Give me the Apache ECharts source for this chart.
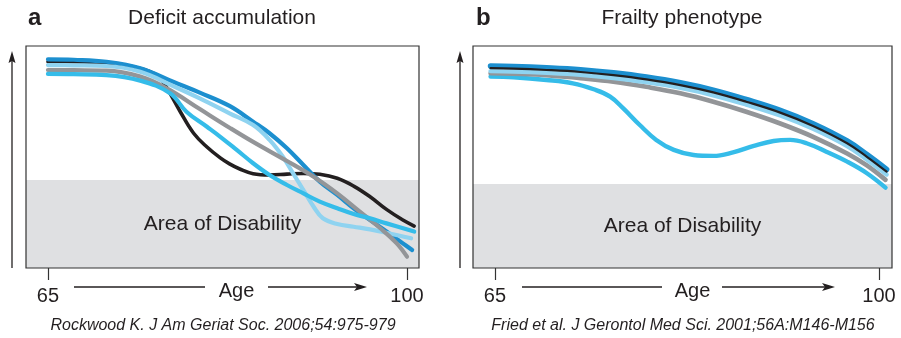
<!DOCTYPE html>
<html>
<head>
<meta charset="utf-8">
<title>Deficit accumulation vs Frailty phenotype</title>
<script src="https://cdn.jsdelivr.net/npm/echarts@6/dist/echarts.min.js"></script>
<style>
  html, body {
    margin: 0;
    padding: 0;
    background: #fff;
  }
  #chart {
    width: 901px;
    height: 338px;
  }
</style>
</head>
<body>
<div id="chart"></div>
<script>
// 刻度：只标 65 和 100 岁
const tickAges = [65, 100]
const panelTitles = ['Deficit accumulation', 'Frailty phenotype']
const panelLetters = ['a', 'b']
const citations = [
  'Rockwood K. J Am Geriat Soc. 2006;54:975-979',
  'Fried et al. J Gerontol Med Sci. 2001;56A:M146-M156'
]
const areaLabel = 'Area of Disability'
// 残疾区上沿（0-100 的功能水平）
const disabilityTop = [39.6, 37.8]

// a: Deficit accumulation，[年龄, 功能水平]
const aBlack = [[65, 92.9], [67.5, 92.9], [70.7, 92.2], [73.3, 90.7], [75.3, 87.7], [76.2, 83.9], [76.9, 78.7],
  [77.9, 70.4], [79.2, 60.7], [80.5, 54.5], [81.8, 49.6], [82.7, 46.9], [83.7, 44.6], [85.0, 42.5], [86.6, 41.9],
  [88.3, 42.3], [89.9, 42.6], [91.5, 42.2], [93.2, 40.4], [94.8, 36.9], [96.4, 32.1], [98.0, 26.4], [99.6, 21.6], [100.7, 18.9]]
const aDarkBlue = [[65, 94.0], [67.5, 93.8], [70.7, 92.9], [74.0, 90.0], [77.2, 83.9], [79.8, 79.0], [82.7, 73.0],
  [85.0, 65.9], [86.6, 60.7], [88.3, 53.9], [89.9, 46.4], [91.5, 38.9], [93.2, 32.9], [94.8, 26.9], [96.4, 21.6],
  [98.0, 16.4], [99.6, 11.1], [100.5, 8.1]]
const aLightBlue = [[65, 91.4], [67.5, 91.3], [70.7, 91.0], [74.0, 88.4], [77.2, 82.0], [79.8, 76.4], [82.7, 69.7],
  [85.0, 64.4], [86.6, 57.7], [87.9, 50.1], [88.9, 42.6], [89.9, 35.1], [90.9, 27.6], [91.8, 22.4], [93.2, 19.8],
  [94.8, 18.6], [96.4, 17.4], [98.0, 15.9], [100.4, 13.4]]
const aGray = [[65, 89.2], [67.5, 89.1], [70.7, 88.9], [74.0, 86.2], [76.6, 80.9], [79.8, 71.6], [82.7, 63.2],
  [85.0, 56.8], [88.3, 48.2], [90.9, 41.1], [93.2, 33.6], [95.4, 25.4], [97.4, 17.9], [99.0, 11.1], [100.0, 5.1]]
const aCyan = [[65, 87.4], [67.5, 87.3], [70.7, 86.9], [74.0, 84.4], [76.9, 78.7], [78.5, 70.4], [80.5, 63.6],
  [81.8, 59.1], [83.4, 53.2], [85.0, 47.2], [86.6, 41.9], [88.3, 37.4], [89.9, 33.6], [91.5, 29.9], [93.2, 26.9],
  [94.8, 24.3], [96.4, 22.4], [98.0, 20.1], [100.7, 16.4]]

// b: Frailty phenotype
const bBlack = [[64.6, 90.0], [66.7, 89.8], [69.7, 89.2], [72.8, 88.3], [75.8, 86.9], [78.8, 85.0], [81.9, 82.4],
  [84.9, 79.1], [87.9, 74.9], [91.0, 70.0], [94.0, 64.0], [97.1, 56.2], [98.9, 50.1], [100.7, 43.4]]
const bDarkBlue = [[64.6, 91.0], [66.7, 90.8], [69.7, 90.2], [72.8, 89.3], [75.8, 87.9], [78.8, 86.0], [81.9, 83.4],
  [84.9, 80.1], [87.9, 75.9], [91.0, 71.0], [94.0, 65.0], [97.1, 57.2], [98.9, 51.1], [100.7, 44.4]]
const bLightBlue = [[64.6, 88.7], [66.7, 88.5], [69.7, 87.9], [72.8, 87.0], [75.8, 85.6], [78.8, 83.7], [81.9, 81.1],
  [84.9, 77.8], [87.9, 73.6], [91.0, 68.7], [94.0, 62.7], [97.1, 54.9], [98.9, 48.8], [100.7, 42.1]]
const bGray = [[64.6, 87.7], [66.7, 87.5], [69.7, 86.9], [72.8, 85.5], [75.8, 83.9], [78.8, 81.6], [81.9, 78.7],
  [84.9, 74.9], [87.9, 70.4], [91.0, 65.1], [94.0, 59.1], [97.1, 51.6], [98.9, 46.2], [100.6, 39.7]]
const bCyan = [[64.6, 86.2], [66.7, 85.9], [69.7, 84.7], [72.1, 83.2], [74.0, 80.5], [75.5, 77.2], [76.7, 71.9],
  [78.2, 64.4], [79.7, 57.7], [81.3, 53.2], [83.1, 50.9], [84.9, 50.5], [86.7, 52.1], [88.6, 55.0], [90.4, 57.2],
  [91.9, 57.7], [93.4, 56.2], [95.2, 52.4], [97.1, 47.9], [98.9, 42.7], [100.6, 36.2]]

const FONT = '"Liberation Sans", Arial, Helvetica, sans-serif'
const INK = '#231f20'

const COLORS = {
  black: '#231f20',
  darkBlue: '#1c8fcf',
  lightBlue: '#8fd3f0',
  gray: '#939598',
  cyan: '#35bce9'
}

function lineSeries (name, data, idx, color, width, extra) {
  return Object.assign({
    name: name,
    type: 'line',
    xAxisIndex: idx,
    yAxisIndex: idx,
    data: data,
    smooth: 0.4,
    showSymbol: false,
    silent: true,
    animation: false,
    lineStyle: { color: color, width: width, cap: 'round', join: 'round' }
  }, extra || {})
}

function disabilityArea (idx) {
  return {
    silent: true,
    itemStyle: { color: '#dfe0e2' },
    label: {
      show: true,
      position: 'inside',
      fontFamily: FONT,
      fontSize: 21,
      color: INK
    },
    data: [[{ name: areaLabel, yAxis: 0 }, { yAxis: disabilityTop[idx] }]]
  }
}

function xAxisFor (idx, min, max, nameShift) {
  return {
    type: 'value',
    gridIndex: idx,
    min: min,
    max: max,
    name: 'Age',
    nameLocation: 'middle',
    nameGap: 13,
    nameMoveOverlap: false,
    nameTextStyle: {
      fontFamily: FONT,
      fontSize: 20,
      color: INK,
      verticalAlign: 'top',
      // "Age" 在图中略偏右
      padding: [0, 0, 0, nameShift * 2]
    },
    splitLine: { show: false },
    axisLine: { show: false },
    axisTick: {
      show: true,
      customValues: tickAges,
      length: 12,
      lineStyle: { color: '#333', width: 1.2 }
    },
    axisLabel: {
      show: true,
      customValues: tickAges,
      margin: 18,
      fontFamily: FONT,
      fontSize: 20,
      color: INK,
      formatter: v => String(v)
    }
  }
}

function yAxisFor (idx) {
  return { type: 'value', gridIndex: idx, min: 0, max: 100, show: false }
}

// 坐标轴箭头（装饰）
function arrowGraphics (yx, ageLeft, ageRight) {
  const y = 287
  return [
    { type: 'line', shape: { x1: yx, y1: 268, x2: yx, y2: 58 }, style: { stroke: INK, lineWidth: 1.3 } },
    { type: 'polygon', shape: { points: [[yx, 51], [yx - 3.5, 63], [yx, 61], [yx + 3.5, 63]] }, style: { fill: INK } },
    { type: 'line', shape: { x1: ageLeft[0], y1: y, x2: ageLeft[1], y2: y }, style: { stroke: INK, lineWidth: 1.3 } },
    { type: 'line', shape: { x1: ageRight[0], y1: y, x2: ageRight[1] - 6, y2: y }, style: { stroke: INK, lineWidth: 1.3 } },
    { type: 'polygon', shape: { points: [[ageRight[1], y], [ageRight[1] - 13, y - 4], [ageRight[1] - 10, y], [ageRight[1] - 13, y + 4]] }, style: { fill: INK } }
  ]
}

function textGraphic (text, x, y, font, align) {
  return {
    type: 'text',
    silent: true,
    style: {
      text: text,
      x: x,
      y: y,
      font: font,
      fill: INK,
      textAlign: align || 'center',
      textVerticalAlign: 'middle'
    }
  }
}

const chart = echarts.init(document.getElementById('chart'), null, { renderer: 'canvas' })

const option = {
  backgroundColor: '#fff',
  animation: false,
  grid: [
    { left: 26, top: 46, width: 393, height: 222, show: true, z: 10, backgroundColor: 'transparent', borderColor: '#333', borderWidth: 1.2 },
    { left: 473, top: 46, width: 419, height: 222, show: true, z: 10, backgroundColor: 'transparent', borderColor: '#333', borderWidth: 1.2 }
  ],
  xAxis: [xAxisFor(0, 62.86, 101.17, 14), xAxisFor(1, 63.0, 101.19, 10)],
  yAxis: [yAxisFor(0), yAxisFor(1)],
  series: [
    lineSeries('black', aBlack, 0, COLORS.black, 3.6, { markArea: disabilityArea(0) }),
    lineSeries('darkBlue', aDarkBlue, 0, COLORS.darkBlue, 4.2),
    lineSeries('lightBlue', aLightBlue, 0, COLORS.lightBlue, 4.2),
    lineSeries('gray', aGray, 0, COLORS.gray, 4.2),
    lineSeries('cyan', aCyan, 0, COLORS.cyan, 4.2),

    lineSeries('cyan', bCyan, 1, COLORS.cyan, 4.4, { markArea: disabilityArea(1) }),
    lineSeries('gray', bGray, 1, COLORS.gray, 4.6),
    lineSeries('darkBlue', bDarkBlue, 1, COLORS.darkBlue, 5.6),
    lineSeries('lightBlue', bLightBlue, 1, COLORS.lightBlue, 4.4),
    lineSeries('black', bBlack, 1, COLORS.black, 2.2)
  ],
  graphic: [].concat(
    arrowGraphics(12, [74, 205], [268, 367]),
    arrowGraphics(460, [522, 662], [722, 835]),
    [
      textGraphic(panelLetters[0], 28, 18, 'bold 24px ' + FONT, 'left'),
      textGraphic(panelTitles[0], 222, 18, '21px ' + FONT),
      textGraphic(panelLetters[1], 476, 18, 'bold 24px ' + FONT, 'left'),
      textGraphic(panelTitles[1], 682, 18, '21px ' + FONT),
      textGraphic(citations[0], 223, 326, 'italic 16px ' + FONT),
      textGraphic(citations[1], 683, 326, 'italic 16px ' + FONT)
    ]
  )
}

chart.setOption(option)
</script>
</body>
</html>
